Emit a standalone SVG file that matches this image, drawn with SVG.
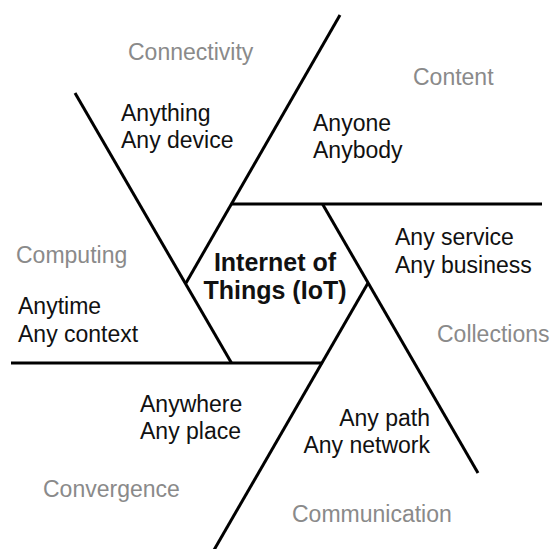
<svg xmlns="http://www.w3.org/2000/svg" width="553" height="549" viewBox="0 0 553 549">
  <style>
    .spoke { stroke: #000; stroke-width: 3; fill: none; stroke-linecap: butt; }
    .item { font-family: "Liberation Sans", Arial, sans-serif; font-size: 23px; fill: #111; }
    .area { font-family: "Liberation Sans", Arial, sans-serif; font-size: 23px; fill: #8a8a8a; }
    .core { font-family: "Liberation Sans", Arial, sans-serif; font-size: 25px; font-weight: bold; fill: #111; text-anchor: middle; }
    .end { text-anchor: end; }
  </style>
  <rect width="553" height="549" fill="#fff"/>

  <!-- pinwheel spokes: each starts at a hexagon corner and runs out through the next one -->
  <g id="connectors">
    <line class="spoke" x1="186" y1="283" x2="340" y2="15"/>
    <line class="spoke" x1="231.5" y1="363" x2="75" y2="93"/>
    <line class="spoke" x1="322.5" y1="363" x2="11" y2="363"/>
    <line class="spoke" x1="368" y1="283" x2="214" y2="550"/>
    <line class="spoke" x1="322.5" y1="204" x2="478" y2="473"/>
    <line class="spoke" x1="231.5" y1="204" x2="542" y2="204"/>
  </g>

  <g id="iot">
    <text class="core" x="275" y="271">Internet of</text>
    <text class="core" x="275" y="299">Things (IoT)</text>
  </g>

  <g id="connectivity">
    <text class="area" x="128" y="60">Connectivity</text>
    <text class="item" x="121" y="121">Anything</text>
    <text class="item" x="121" y="148">Any device</text>
  </g>

  <g id="content">
    <text class="area" x="413" y="85">Content</text>
    <text class="item" x="313" y="131">Anyone</text>
    <text class="item" x="313" y="158">Anybody</text>
  </g>

  <g id="collections">
    <text class="item" x="395" y="245">Any service</text>
    <text class="item" x="395" y="273">Any business</text>
    <text class="area" x="437" y="342">Collections</text>
  </g>

  <g id="communication">
    <text class="item end" x="430" y="426">Any path</text>
    <text class="item end" x="430" y="453">Any network</text>
    <text class="area" x="292" y="522">Communication</text>
  </g>

  <g id="convergence">
    <text class="item" x="140" y="412">Anywhere</text>
    <text class="item" x="140" y="439">Any place</text>
    <text class="area" x="43" y="497">Convergence</text>
  </g>

  <g id="computing">
    <text class="area" x="16" y="263">Computing</text>
    <text class="item" x="18" y="314">Anytime</text>
    <text class="item" x="18" y="342">Any context</text>
  </g>
</svg>
